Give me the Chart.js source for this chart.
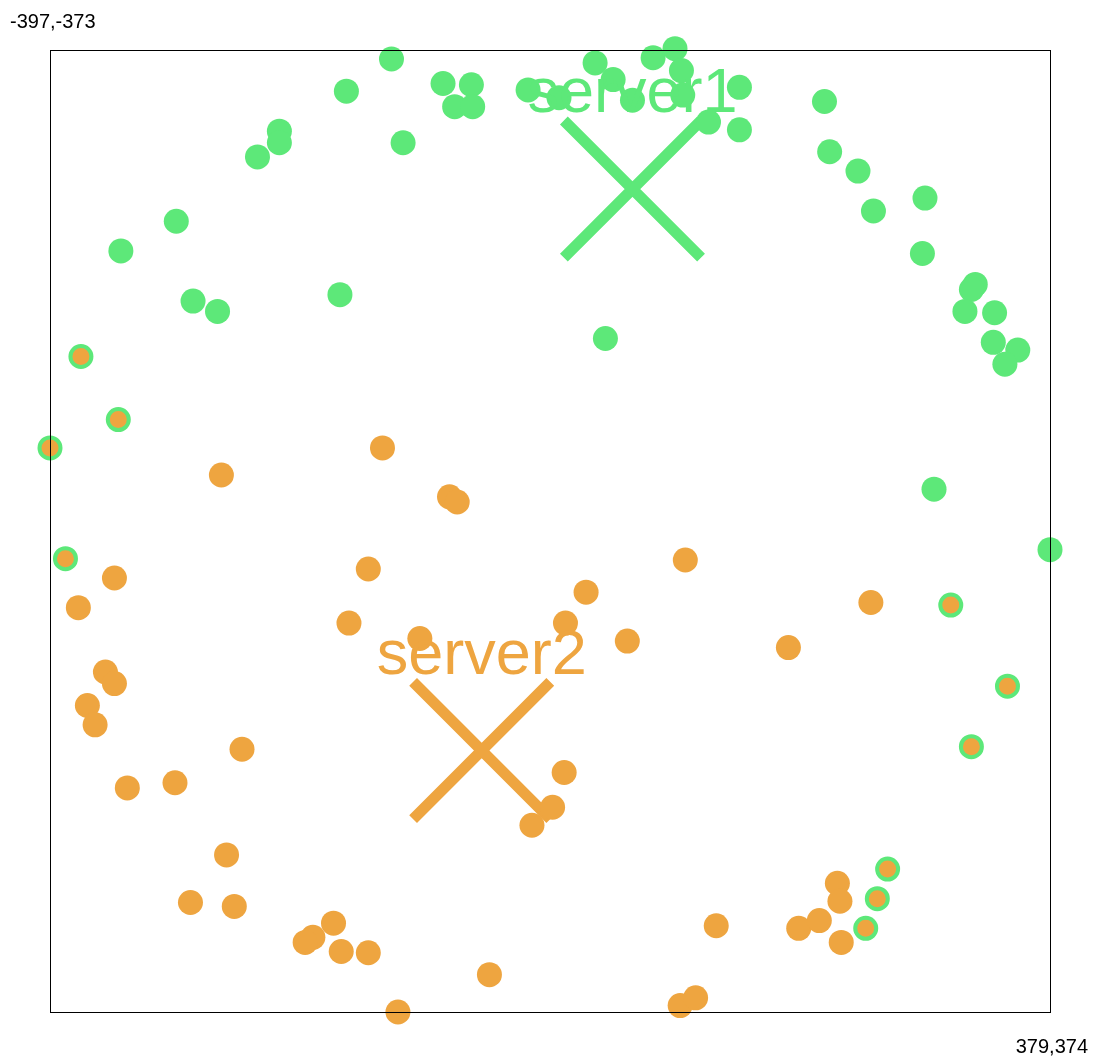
<!DOCTYPE html>
<html>
<head>
<meta charset="utf-8">
<script src="https://cdn.jsdelivr.net/npm/chart.js@4"></script>
<style>
  html, body { margin: 0; padding: 0; background: #fff; }
  #wrap { width: 1100px; height: 1062px; position: relative; }
</style>
</head>
<body>
<div id="wrap"><canvas id="chart"></canvas></div>
<script>
// plot bounds (data units)
const xMin = -397, xMax = 379;
const yMin = -373, yMax = 374;

// cluster names and centroids
const clusterNames = ["server1", "server2"];
const centroidX = [55, -62];
const centroidY = [-265, 171];

// points assigned to server1
const server1X = [-132, -92, -70, -83, -69, -167, -26, -2, 26, 40, 55, 71, 88, 93, 94, 138, 114, 138,
  204, 208, 230, 242, 282, 280, 321, 318, 313, 336, 335, 354, 344,
  -219, -219, -236, -123, -299, -342, -286, -267, -172, 34, 289, 379];
const server1Y = [-366, -347, -346, -329, -329, -341, -342, -336, -363, -350, -334, -367, -374, -357, -338, -344, -317, -311,
  -333, -294, -279, -248, -258, -215, -191, -187, -170, -169, -146, -140, -129,
  -310, -301, -290, -301, -240, -217, -178, -170, -183, -149, -32, 15];

// points assigned to server2
const server2X = [-139, -264, -87, -81, -150, -347, -375, -165, 19, 3, 96, 51, -110, 240, 176,
  -354, -347, -368, -362, -248, -300, -337, 2, -7, -23, -260, -288, -254,
  -177, -193, -199, -171, -150, -56, -127, 120, 184, 200, 214, 216, 217, 92, 104];
const server2Y = [-64, -43, -26, -22, 30, 37, 60, 72, 48, 72, 23, 86, 84, 56, 91,
  110, 119, 136, 151, 170, 196, 200, 188, 215, 229, 252, 289, 292,
  305, 316, 320, 327, 328, 345, 374, 307, 309, 303, 274, 288, 320, 369, 363];

// points that moved from server1 to server2
const movedX = [-373, -344, -397, -385, 302, 346, 318, 253, 245, 236];
const movedY = [-135, -86, -64, 22, 58, 121, 168, 263, 286, 309];

const green = "#5de879";
const orange = "#eea540";

function toPoints(xs, ys) {
  return xs.map((x, i) => ({ x: x, y: ys[i] }));
}

// frame, corner labels and cluster names
const framePlugin = {
  id: "frame",
  afterDatasetsDraw(chart) {
    const ctx = chart.ctx;
    const a = chart.chartArea;
    const xs = chart.scales.x, ys = chart.scales.y;
    ctx.save();
    ctx.strokeStyle = "#000";
    ctx.lineWidth = 1;
    ctx.strokeRect(a.left + 0.5, a.top + 0.5, a.right - a.left, a.bottom - a.top);

    ctx.fillStyle = "#000";
    ctx.font = "20px 'Liberation Sans', Arial, sans-serif";
    ctx.textAlign = "left";
    ctx.fillText(xs.min + "," + ys.min, 10, 28);
    ctx.textAlign = "right";
    ctx.fillText(xs.max + "," + ys.max, 1088, 1053);

    ctx.font = "63px 'Liberation Sans', Arial, sans-serif";
    ctx.textAlign = "center";
    const meta = chart.getDatasetMeta(3);
    meta.data.forEach((pt, i) => {
      ctx.fillStyle = i === 0 ? green : orange;
      ctx.fillText(clusterNames[i], pt.x, pt.y - 77);
    });
    ctx.restore();
  }
};

new Chart(document.getElementById("chart"), {
  type: "scatter",
  data: {
    datasets: [
      {
        label: "server1",
        data: toPoints(server1X, server1Y),
        backgroundColor: green,
        borderWidth: 0,
        pointRadius: 12.5,
        clip: false
      },
      {
        label: "server2",
        data: toPoints(server2X, server2Y),
        backgroundColor: orange,
        borderWidth: 0,
        pointRadius: 12.5,
        clip: false
      },
      {
        label: "moved",
        data: toPoints(movedX, movedY),
        backgroundColor: orange,
        borderColor: green,
        borderWidth: 4,
        pointRadius: 10.5,
        clip: false
      },
      {
        label: "centroids",
        data: toPoints(centroidX, centroidY),
        pointStyle: "crossRot",
        borderColor: [green, orange],
        backgroundColor: [green, orange],
        borderWidth: 11,
        pointRadius: 97,
        clip: false
      }
    ]
  },
  options: {
    responsive: true,
    maintainAspectRatio: false,
    animation: false,
    events: [],
    layout: { padding: 50, autoPadding: false },
    plugins: {
      legend: { display: false },
      tooltip: { enabled: false }
    },
    scales: {
      x: { type: "linear", min: xMin, max: xMax, display: false },
      y: { type: "linear", min: yMin, max: yMax, reverse: true, display: false }
    }
  },
  plugins: [framePlugin]
});
</script>
</body>
</html>
